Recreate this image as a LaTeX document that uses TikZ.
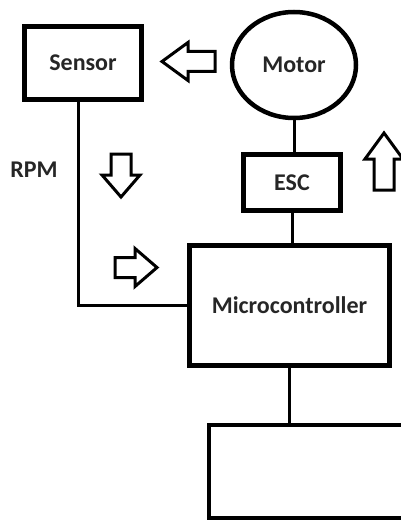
\documentclass[tikz,border=0pt]{standalone}
\usepackage{fontspec}
\setmainfont{Carlito}
\usetikzlibrary{shapes.geometric}

\begin{document}
\begin{tikzpicture}[x=1pt,y=-1pt,font=\fontsize{24}{28}\selectfont\bfseries,
  block/.style={draw,line width=5pt,inner sep=0pt,text=black!85},
  link/.style={line width=3pt},
  pics/hollowarrow/.style args={#1/#2}{code={
    \draw[line width=3pt] ({-#1/2},-10) -- ({#1/2-#2},-10) -- ({#1/2-#2},-19) -- ({#1/2},0)
      -- ({#1/2-#2},19) -- ({#1/2-#2},10) -- ({-#1/2},10) -- cycle;}}]
  \useasboundingbox (0,0) rectangle (401,524);
  \node[block,minimum width=117pt,minimum height=73pt] (sensor) at (83,63) {Sensor};
  \node[block,ellipse,line width=4.5pt,minimum width=124pt,minimum height=106pt] (motor) at (294,65) {Motor};
  \node[block,minimum width=97pt,minimum height=56pt] (esc) at (292,182.5) {ESC};
  \node[block,minimum width=200pt,minimum height=120pt] (micro) at (289.5,305.5) {Microcontroller};
  \node[block,line width=4pt,minimum width=250pt,minimum height=93pt] (out) at (334,471.5) {};
  \node[text=black!85] (rpm) at (34,170) {RPM};
  \draw[link] (motor.south) -- (motor.south |- esc.north);
  \draw[link] (esc.south) -- (esc.south |- micro.north);
  \draw[link] (micro.south) -- (micro.south |- out.north);
  \draw[link] ([xshift=-5pt]sensor.south) |- (micro.west);
  \pic[rotate=180] (toSensor) at (188.5,61.5) {hollowarrow=53/26};
  \pic[rotate=-90] (downRpm) at (121,175.5) {hollowarrow=43/22};
  \pic (toMicro) at (136,267.5) {hollowarrow=42/22};
  \pic[rotate=90] (upEsc) at (384,161.5) {hollowarrow=57/26};
\end{tikzpicture}
\end{document}
